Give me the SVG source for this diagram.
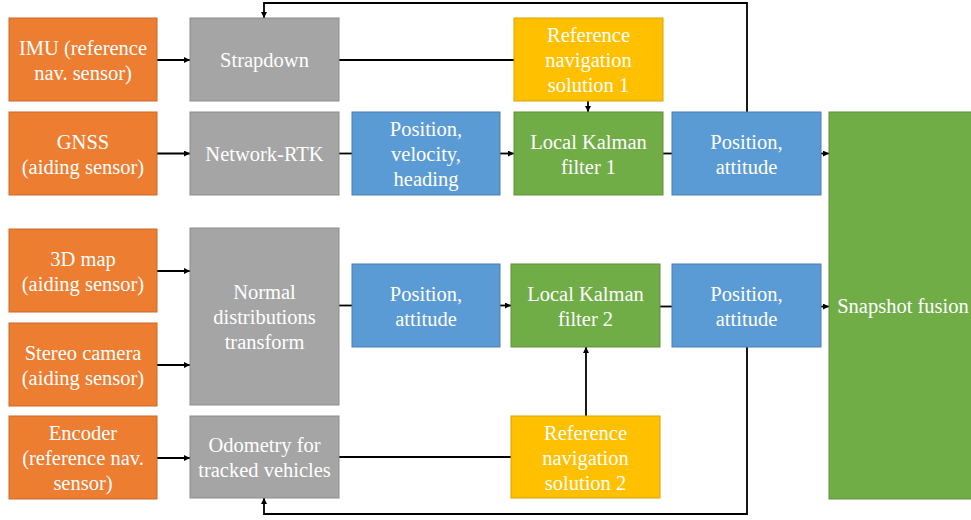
<svg xmlns="http://www.w3.org/2000/svg" width="971" height="520" viewBox="0 0 971 520">
  <style>
    .box { stroke-width: 1; }
    .orange { fill: #ED7D31; stroke: #C9692A; }
    .gray { fill: #A5A5A5; stroke: #8C8C8C; }
    .blue { fill: #5B9BD5; stroke: #4A7EB0; }
    .yellow { fill: #FFC000; stroke: #D9A300; }
    .green { fill: #70AD47; stroke: #5E913B; }
    text { font-family: "Liberation Serif", "Times New Roman", serif; font-size: 20.5px; fill: #FFFFFF; text-anchor: middle; }
    .wire { fill: none; stroke: #000000; stroke-width: 1.8; }
    .arrow { marker-end: url(#head); }
  </style>
  <defs>
    <marker id="head" markerUnits="userSpaceOnUse" markerWidth="7" markerHeight="7" refX="6" refY="3" orient="auto">
      <path d="M0,0 L6,3 L0,6 z" fill="#000000"/>
    </marker>
  </defs>
  <rect width="971" height="520" fill="#FFFFFF"/>

  <g id="connectors">
    <line class="wire arrow" x1="157" y1="60" x2="190" y2="60"/>
    <line class="wire" x1="339" y1="60" x2="514" y2="60"/>
    <line class="wire arrow" x1="588" y1="101" x2="588" y2="112"/>
    <line class="wire arrow" x1="157" y1="153.5" x2="190" y2="153.5"/>
    <line class="wire" x1="339" y1="153.5" x2="352" y2="153.5"/>
    <line class="wire arrow" x1="500" y1="153.5" x2="514" y2="153.5"/>
    <line class="wire" x1="663" y1="153.5" x2="672" y2="153.5"/>
    <line class="wire arrow" x1="821" y1="153.5" x2="829" y2="153.5"/>
    <polyline class="wire arrow" points="747,112 747,3 264,3 264,18"/>

    <line class="wire arrow" x1="157" y1="271" x2="190" y2="271"/>
    <line class="wire arrow" x1="157" y1="365" x2="190" y2="365"/>
    <line class="wire arrow" x1="157" y1="458" x2="190" y2="458"/>
    <line class="wire" x1="339" y1="305.5" x2="352" y2="305.5"/>
    <line class="wire arrow" x1="500" y1="305.5" x2="511" y2="305.5"/>
    <line class="wire" x1="660" y1="306.5" x2="672" y2="306.5"/>
    <line class="wire arrow" x1="821" y1="306.5" x2="829" y2="306.5"/>
    <line class="wire" x1="339" y1="457" x2="511" y2="457"/>
    <line class="wire arrow" x1="586" y1="416" x2="586" y2="347"/>
    <polyline class="wire arrow" points="747,347 747,514 264,514 264,498"/>
  </g>

  <g id="imu">
    <rect class="box orange" x="9" y="18" width="148" height="83"/>
    <text x="83" y="55">IMU (reference</text>
    <text x="83" y="80">nav. sensor)</text>
  </g>
  <g id="strapdown">
    <rect class="box gray" x="190" y="18" width="149" height="83"/>
    <text x="264.5" y="67">Strapdown</text>
  </g>
  <g id="ref-nav-1">
    <rect class="box yellow" x="514" y="18" width="149" height="83"/>
    <text x="588.5" y="42">Reference</text>
    <text x="588.5" y="67">navigation</text>
    <text x="588.5" y="92">solution 1</text>
  </g>

  <g id="gnss">
    <rect class="box orange" x="9" y="112" width="148" height="83"/>
    <text x="83" y="148.5">GNSS</text>
    <text x="83" y="173.5">(aiding sensor)</text>
  </g>
  <g id="network-rtk">
    <rect class="box gray" x="190" y="112" width="149" height="83"/>
    <text x="264.5" y="161">Network-RTK</text>
  </g>
  <g id="pos-vel-heading">
    <rect class="box blue" x="352" y="112" width="148" height="83"/>
    <text x="426" y="136">Position,</text>
    <text x="426" y="161">velocity,</text>
    <text x="426" y="186">heading</text>
  </g>
  <g id="lkf-1">
    <rect class="box green" x="514" y="112" width="149" height="83"/>
    <text x="588.5" y="148.5">Local Kalman</text>
    <text x="588.5" y="173.5">filter 1</text>
  </g>
  <g id="pos-att-1">
    <rect class="box blue" x="672" y="112" width="149" height="83"/>
    <text x="746.5" y="148.5">Position,</text>
    <text x="746.5" y="173.5">attitude</text>
  </g>

  <g id="snapshot-fusion">
    <rect class="box green" x="829" y="112" width="150" height="387"/>
    <text x="903" y="313">Snapshot fusion</text>
  </g>

  <g id="map-3d">
    <rect class="box orange" x="9" y="229" width="148" height="83"/>
    <text x="83" y="265.5">3D map</text>
    <text x="83" y="290.5">(aiding sensor)</text>
  </g>
  <g id="stereo-camera">
    <rect class="box orange" x="9" y="323" width="148" height="83"/>
    <text x="83" y="359.5">Stereo camera</text>
    <text x="83" y="384.5">(aiding sensor)</text>
  </g>
  <g id="ndt">
    <rect class="box gray" x="190" y="228" width="149" height="177"/>
    <text x="264.5" y="299">Normal</text>
    <text x="264.5" y="324">distributions</text>
    <text x="264.5" y="349">transform</text>
  </g>
  <g id="pos-att-2">
    <rect class="box blue" x="352" y="264" width="148" height="83"/>
    <text x="426" y="300.5">Position,</text>
    <text x="426" y="325.5">attitude</text>
  </g>
  <g id="lkf-2">
    <rect class="box green" x="511" y="264" width="149" height="83"/>
    <text x="585.5" y="300.5">Local Kalman</text>
    <text x="585.5" y="325.5">filter 2</text>
  </g>
  <g id="pos-att-2b">
    <rect class="box blue" x="672" y="264" width="149" height="83"/>
    <text x="746.5" y="300.5">Position,</text>
    <text x="746.5" y="325.5">attitude</text>
  </g>

  <g id="encoder">
    <rect class="box orange" x="9" y="416" width="148" height="83"/>
    <text x="83" y="440">Encoder</text>
    <text x="83" y="465">(reference nav.</text>
    <text x="83" y="490">sensor)</text>
  </g>
  <g id="odometry">
    <rect class="box gray" x="190" y="416" width="149" height="82"/>
    <text x="264.5" y="452">Odometry for</text>
    <text x="264.5" y="477">tracked vehicles</text>
  </g>
  <g id="ref-nav-2">
    <rect class="box yellow" x="511" y="416" width="149" height="82"/>
    <text x="585.5" y="440">Reference</text>
    <text x="585.5" y="465">navigation</text>
    <text x="585.5" y="490">solution 2</text>
  </g>
</svg>
